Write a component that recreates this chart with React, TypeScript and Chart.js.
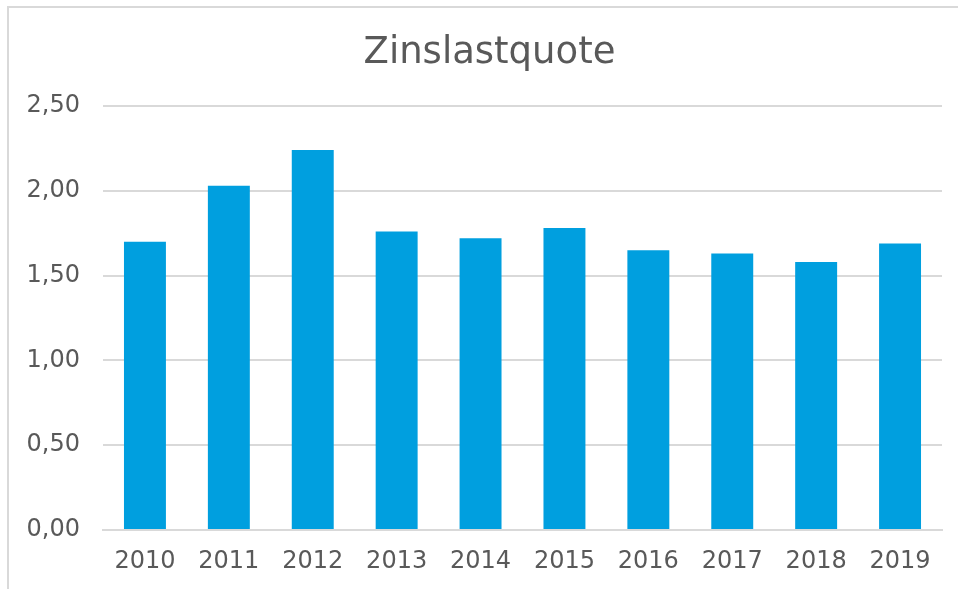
import React, { useEffect, useRef } from "react";
import { Chart, registerables } from "chart.js";

Chart.register(...registerables);

const TITLE = "Zinslastquote";
const YEARS = ["2010", "2011", "2012", "2013", "2014", "2015", "2016", "2017", "2018", "2019"];
const VALUES = [1.70, 2.03, 2.24, 1.76, 1.72, 1.78, 1.65, 1.63, 1.58, 1.69];
const Y_MIN = 0;
const Y_MAX = 2.5;
const Y_STEP = 0.5;

const FONT = "'DejaVu Sans', Verdana, sans-serif";
const TEXT = "#595959";
const BAR = "#009FDF";
const GRID = "#d9d9d9";

const titlePlugin = {
  id: "excelTitle",
  afterDraw(chart: any) {
    const ctx = chart.ctx;
    ctx.save();
    ctx.font = `normal 37px ${FONT}`;
    ctx.fillStyle = TEXT;
    ctx.textAlign = "center";
    ctx.textBaseline = "middle";
    ctx.fillText(TITLE, chart.width / 2 + 6, 45);
    ctx.restore();
  },
};

export default function App() {
  const ref = useRef<HTMLCanvasElement | null>(null);

  useEffect(() => {
    if (!ref.current) return;
    const chart = new Chart(ref.current, {
      type: "bar",
      data: {
        labels: YEARS,
        datasets: [
          {
            data: VALUES,
            backgroundColor: BAR,
            borderWidth: 0,
            barPercentage: 0.5,
            categoryPercentage: 1,
          },
        ],
      },
      options: {
        animation: false,
        responsive: false,
        maintainAspectRatio: false,
        layout: { padding: { left: 0, right: 16, top: 98, bottom: 0 } },
        plugins: {
          legend: { display: false },
          tooltip: { enabled: false },
          title: { display: false },
        },
        scales: {
          x: {
            grid: { display: false, drawTicks: false },
            border: { display: true, color: GRID, width: 2 },
            ticks: {
              color: TEXT,
              font: { family: FONT, size: 24 },
              padding: 17,
              maxRotation: 0,
            },
            afterFit: (scale: any) => {
              scale.height = 59;
            },
          },
          y: {
            min: Y_MIN,
            max: Y_MAX,
            grid: { color: GRID, lineWidth: 2, drawTicks: false },
            border: { display: false },
            ticks: {
              stepSize: Y_STEP,
              color: TEXT,
              font: { family: FONT, size: 24 },
              padding: 23,
              callback: (v: any) => Number(v).toFixed(2).replace(".", ","),
            },
            afterFit: (scale: any) => {
              scale.width = 94;
            },
          },
        },
      },
      plugins: [titlePlugin],
    });
    return () => chart.destroy();
  }, []);

  return (
    <div
      style={{
        position: "absolute",
        left: 7,
        top: 6,
        width: 951,
        height: 583,
        boxSizing: "border-box",
        borderTop: "2px solid #d9d9d9",
        borderLeft: "2px solid #d9d9d9",
        background: "#fff",
      }}
    >
      <canvas ref={ref} width={949} height={581} style={{ display: "block" }} />
    </div>
  );
}
